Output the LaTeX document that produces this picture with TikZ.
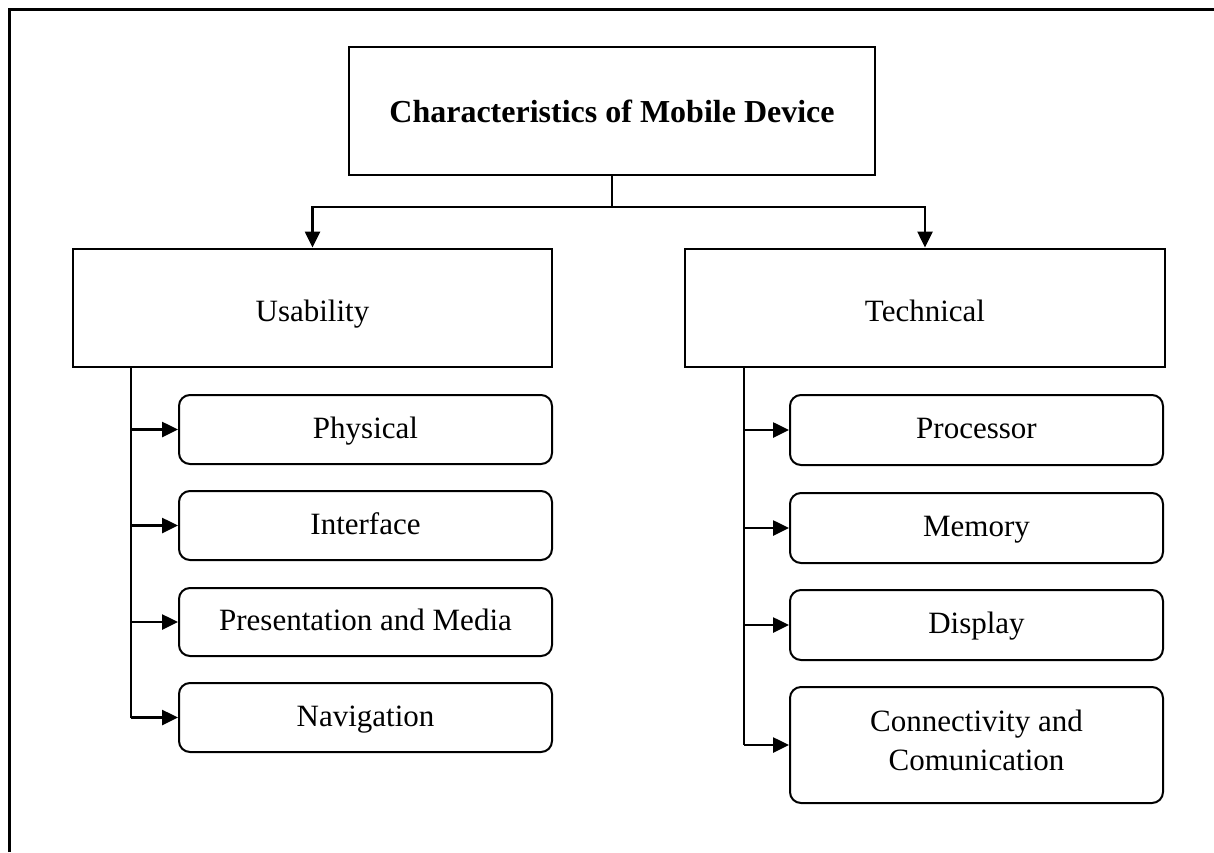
\documentclass[tikz,border=0pt]{standalone}
\usepackage{fontspec}
\setmainfont{Liberation Serif}
\usetikzlibrary{arrows.meta}

\tikzset{
  frameline/.style={line width=3pt},
  mainbox/.style={draw, line width=2pt, rectangle, inner sep=0pt,
    font=\fontsize{31}{37}\selectfont, align=center,
    text height=30pt, text depth=3pt},
  subbox/.style={draw, line width=2pt, rectangle, rounded corners=11pt,
    inner sep=0pt, minimum width=373pt,
    font=\fontsize{31}{39}\selectfont, align=center},
  oneline/.style={text height=22pt, text depth=4.5pt},
  link/.style={line width=2.6pt},
  linkarrow/.style={line width=2.6pt, -{Triangle[length=16pt,width=15pt]}},
}

\begin{document}
\begin{tikzpicture}[x=1pt, y=-1pt]
  \useasboundingbox (0,0) rectangle (1214,852);

  % outer frame (top and left edges)
  \draw[frameline] (9,852) -- (9,9) -- (1214,9);

  % root
  \node[draw, line width=2pt, inner sep=0pt,
        minimum width=526pt, minimum height=128pt,
        font=\fontsize{32}{38}\selectfont\bfseries,
        text height=24pt, text depth=2pt]
    (root) at (612,111) {Characteristics of Mobile Device};

  % two main groups
  \node[mainbox, minimum width=479pt, minimum height=118pt]
    (usab) at (312.5,307.5) {Usability};
  \node[mainbox, minimum width=480pt, minimum height=118pt]
    (tech) at (925,307.5) {Technical};

  % usability items
  \node[subbox, oneline, minimum height=69pt] (phys) at (365.5,429.5) {Physical};
  \node[subbox, oneline, minimum height=69pt] (intf) at (365.5,525.5) {Interface};
  \node[subbox, oneline, minimum height=68pt] (pres) at (365.5,622) {Presentation and Media};
  \node[subbox, oneline, minimum height=69pt] (navi) at (365.5,717.5) {Navigation};

  % technical items
  \node[subbox, oneline, minimum height=70pt] (proc) at (976.5,430) {Processor};
  \node[subbox, oneline, minimum height=70pt] (memo) at (976.5,528) {Memory};
  \node[subbox, oneline, minimum height=70pt] (disp) at (976.5,625) {Display};
  \node[subbox, minimum height=116pt] (conn) at (976.5,745) {};
  \node[font=\fontsize{31}{39}\selectfont, align=center, inner sep=0pt]
    (conntext) at ([yshift=5pt]conn.center) {Connectivity and\\Comunication};

  % root to groups
  \path (root.south) ++(0,31) coordinate (jn);
  \draw[line width=1.5pt] (root.south) -- (jn);
  \draw[linkarrow] (jn) -| (usab.north);
  \draw[linkarrow] (jn) -| (tech.north);

  % usability spine
  \path (usab.south west) ++(59,0) coordinate (lsp);
  \draw[link] (lsp) -- (lsp |- navi.west);
  \foreach \n in {phys,intf,pres,navi}
    \draw[linkarrow] (lsp |- \n.west) -- (\n.west);

  % technical spine
  \path (tech.south west) ++(60,0) coordinate (rsp);
  \draw[link] (rsp) -- (rsp |- conn.west);
  \foreach \n in {proc,memo,disp,conn}
    \draw[linkarrow] (rsp |- \n.west) -- (\n.west);
\end{tikzpicture}
\end{document}
